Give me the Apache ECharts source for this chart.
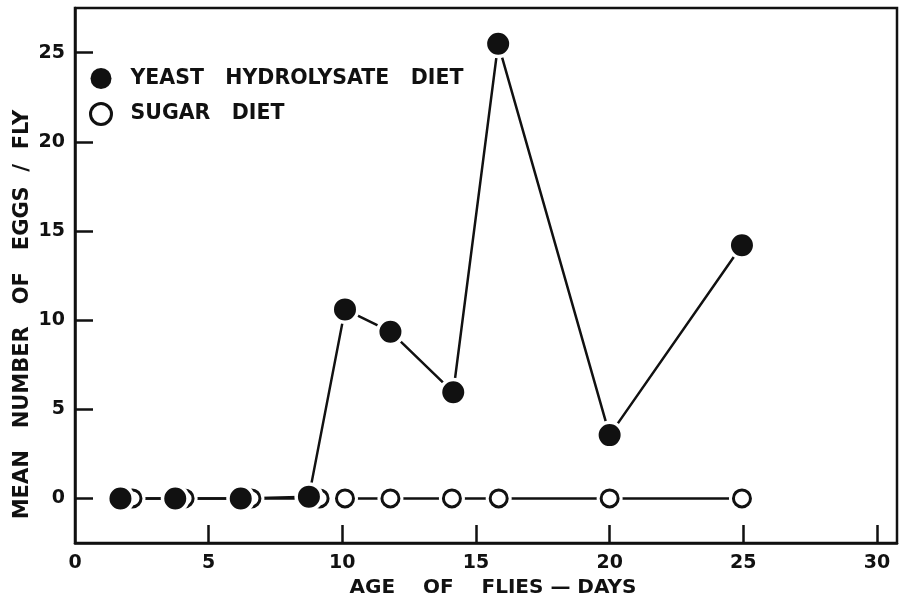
<!DOCTYPE html>
<html>
<head>
<meta charset="utf-8">
<script src="https://cdn.jsdelivr.net/npm/echarts@6/dist/echarts.min.js"></script>
<style>
  html, body { margin: 0; padding: 0; background: #fff; }
  #chart { width: 901px; height: 598px; }
</style>
</head>
<body>
<div id="chart"></div>
<script>
// ages (days) and mean eggs per fly
var yeastDays = [1.7, 3.75, 6.2, 8.75, 10.1, 11.8, 14.15, 15.83, 20.0, 24.95]
var yeastEggs = [0, 0, 0, 0.1, 10.6, 9.35, 5.95, 25.5, 3.55, 14.2]
var sugarDays = [2.15, 4.1, 6.6, 9.15, 10.1, 11.8, 14.1, 15.85, 20.0, 24.95]
var sugarEggs = [0, 0, 0, 0, 0, 0, 0, 0, 0, 0]

var xTicks = [0, 5, 10, 15, 20, 25, 30]
var yTicks = [0, 5, 10, 15, 20, 25]

var ink = '#111'
var font = 'DejaVu Sans'

function pairs (xs, ys) {
  var out = []
  for (var i = 0; i < xs.length; i++) {
    out.push([xs[i], ys[i]])
  }
  return out
}

var chart = echarts.init(document.getElementById('chart'))
chart.setOption({
  animation: false,
  backgroundColor: '#fff',
  grid: {
    left: 75,
    right: 4,
    top: 8,
    bottom: 55,
    outerBoundsMode: 'none',
    show: true,
    borderColor: ink,
    borderWidth: 2.5
  },
  legend: {
    orient: 'vertical',
    left: 84,
    top: 63,
    itemWidth: 21,
    itemHeight: 21,
    itemGap: 13,
    selectedMode: false,
    textStyle: {
      fontFamily: font,
      fontWeight: 'bold',
      fontSize: 20.5,
      color: ink,
      padding: [0, 0, 0, 14]
    },
    data: [
      { name: 'YEAST   HYDROLYSATE   DIET', icon: 'circle', itemStyle: { color: ink, borderWidth: 0 } },
      { name: 'SUGAR   DIET', icon: 'circle', itemStyle: { color: '#fff', borderColor: ink, borderWidth: 3 } }
    ]
  },
  xAxis: {
    type: 'value',
    min: 0,
    max: 30.75,
    name: 'AGE    OF    FLIES — DAYS',
    nameLocation: 'middle',
    nameGap: 34,
    nameTextStyle: {
      fontFamily: font,
      fontWeight: 'bold',
      fontSize: 20,
      color: ink,
      padding: [0, 0, 0, 14]
    },
    axisLine: { onZero: false, lineStyle: { color: ink, width: 2.5 } },
    axisTick: {
      inside: true,
      length: 18,
      lineStyle: { color: ink, width: 2.5 },
      customValues: xTicks.slice(1)
    },
    axisLabel: {
      customValues: xTicks,
      margin: 11,
      fontFamily: font,
      fontWeight: 'bold',
      fontSize: 19,
      color: ink
    },
    splitLine: { show: false }
  },
  yAxis: {
    type: 'value',
    min: -2.5,
    max: 27.5,
    name: 'MEAN   NUMBER   OF   EGGS  /  FLY',
    nameLocation: 'middle',
    nameGap: 42,
    nameMoveOverlap: false,
    nameTextStyle: {
      fontFamily: font,
      fontWeight: 'bold',
      fontSize: 21,
      color: ink,
      padding: [0, 78, 0, 0]
    },
    axisLine: { onZero: false, lineStyle: { color: ink, width: 2.5 } },
    axisTick: {
      inside: true,
      length: 18,
      lineStyle: { color: ink, width: 2.5 },
      customValues: yTicks
    },
    axisLabel: {
      customValues: yTicks,
      margin: 10,
      fontFamily: font,
      fontWeight: 'bold',
      fontSize: 19,
      color: ink
    },
    splitLine: { show: false }
  },
  series: [
    {
      // sugar line; white disks leave the small gap round each open circle
      name: 'SUGAR   DIET',
      type: 'line',
      data: pairs(sugarDays, sugarEggs),
      symbol: 'circle',
      symbolSize: 26,
      itemStyle: { color: '#fff', borderWidth: 0 },
      lineStyle: { color: ink, width: 2.5 },
      emphasis: { disabled: true }
    },
    {
      name: 'sugar-ring',
      type: 'scatter',
      z: 3,
      data: pairs(sugarDays, sugarEggs),
      symbol: 'circle',
      symbolSize: 17,
      itemStyle: { color: '#fff', borderColor: ink, borderWidth: 3, opacity: 1 },
      emphasis: { disabled: true }
    },
    {
      name: 'YEAST   HYDROLYSATE   DIET',
      type: 'line',
      data: pairs(yeastDays, yeastEggs),
      symbol: 'circle',
      symbolSize: 25.5,
      itemStyle: { color: ink, borderColor: '#fff', borderWidth: 3.5 },
      lineStyle: { color: ink, width: 2.5 },
      emphasis: { disabled: true }
    }
  ]
})
</script>
</body>
</html>
